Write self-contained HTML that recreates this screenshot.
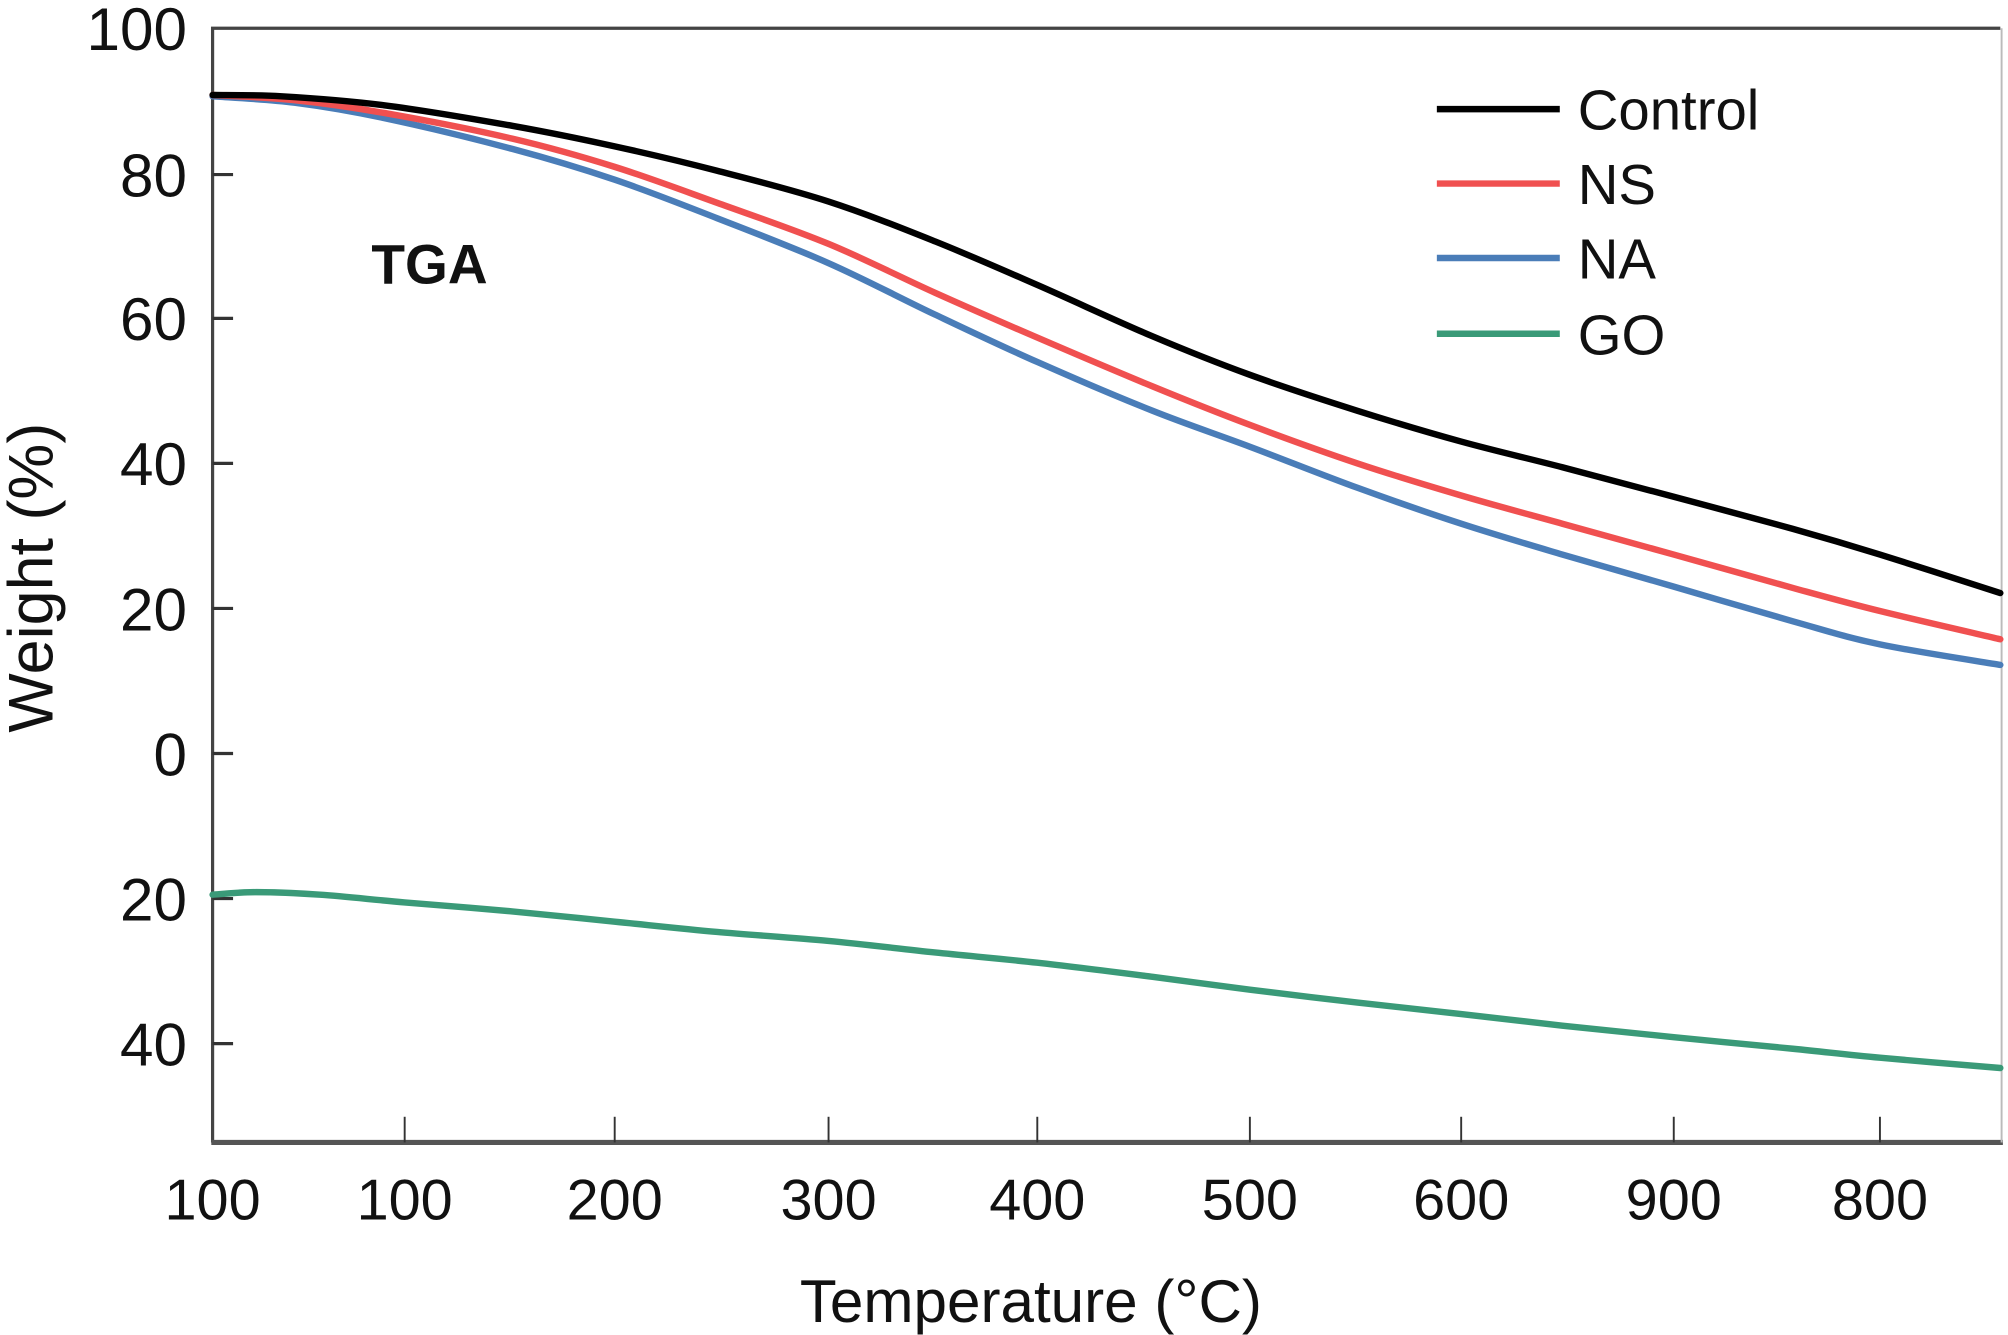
<!DOCTYPE html>
<html><head><meta charset="utf-8"><style>html,body{margin:0;padding:0;background:#fff}svg{display:block}</style></head>
<body>
<svg id="s" width="2008" height="1335" viewBox="0 0 1568 1040" preserveAspectRatio="none" font-family="Liberation Sans, sans-serif">
<rect width="1568" height="1040" fill="#fff"/>
<path d="M166,890 V22 H1562" fill="none" stroke="#444" stroke-width="2.5"/>
<line x1="165" y1="890" x2="1564" y2="890" stroke="#555" stroke-width="4"/>
<line x1="1563" y1="22" x2="1563" y2="890" stroke="#bbb" stroke-width="1.5"/>
<g stroke="#333" stroke-width="2.5">
<line x1="166" y1="136" x2="182" y2="136"/><line x1="166" y1="248" x2="182" y2="248"/>
<line x1="166" y1="361" x2="182" y2="361"/><line x1="166" y1="474" x2="182" y2="474"/>
<line x1="166" y1="587" x2="182" y2="587"/><line x1="166" y1="700" x2="182" y2="700"/>
<line x1="166" y1="813" x2="182" y2="813"/>
</g>
<g stroke="#333" stroke-width="1.5">
<line x1="316" y1="870" x2="316" y2="890"/><line x1="480" y1="870" x2="480" y2="890"/>
<line x1="647" y1="870" x2="647" y2="890"/><line x1="810" y1="870" x2="810" y2="890"/>
<line x1="976" y1="870" x2="976" y2="890"/><line x1="1141" y1="870" x2="1141" y2="890"/>
<line x1="1307" y1="870" x2="1307" y2="890"/><line x1="1468" y1="870" x2="1468" y2="890"/>
</g>
<g font-size="47" fill="#111" text-anchor="end">
<text x="146" y="39">100</text><text x="146" y="153">80</text><text x="146" y="265">60</text>
<text x="146" y="378">40</text><text x="146" y="491">20</text><text x="146" y="604">0</text>
<text x="146" y="717">20</text><text x="146" y="830">40</text>
</g>
<g font-size="45" fill="#111" text-anchor="middle">
<text x="166" y="950">100</text><text x="316" y="950">100</text><text x="480" y="950">200</text>
<text x="647" y="950">300</text><text x="810" y="950">400</text><text x="976" y="950">500</text>
<text x="1141" y="950">600</text><text x="1307" y="950">900</text><text x="1468" y="950">800</text>
</g>
<text x="805" y="1030" font-size="47" text-anchor="middle" fill="#111">Temperature (°C)</text>
<text transform="translate(41,450) rotate(-90)" font-size="49" text-anchor="middle" fill="#111">Weight (%)</text>
<text x="290" y="221" font-size="43" font-weight="bold" fill="#111">TGA</text>
<g stroke-width="5">
<line x1="1122" y1="85" x2="1218" y2="85" stroke="#000"/>
<line x1="1122" y1="143" x2="1218" y2="143" stroke="#f05050"/>
<line x1="1122" y1="201" x2="1218" y2="201" stroke="#4a7db8"/>
<line x1="1122" y1="260" x2="1218" y2="260" stroke="#3a9a78"/>
</g>
<g font-size="44" fill="#111">
<text x="1232" y="101">Control</text><text x="1232" y="159">NS</text>
<text x="1232" y="217">NA</text><text x="1232" y="276">GO</text>
</g>
<g fill="none" stroke-width="5" stroke-linejoin="round" stroke-linecap="round">
<polyline stroke="#4a7db8" points="166,75 230,80 300,92 400,116 480,140 560,170 647,205 730,245 810,282 900,320 976,348 1060,380 1141,408 1220,432 1307,457 1400,484 1468,502 1562,518"/>
<polyline stroke="#f05050" points="166,74 230,78 300,88 400,108 480,130 560,158 647,190 730,228 810,263 900,301 976,331 1060,361 1141,386 1220,408 1307,432 1400,458 1468,476 1562,498"/>
<polyline stroke="#000" points="166,74 220,75 300,82 400,98 480,114 560,133 647,157 730,188 810,222 900,262 976,292 1060,320 1141,344 1220,364 1307,387 1400,412 1468,432 1562,462"/>
<polyline stroke="#3a9a78" points="166,697 200,695 250,697 316,703 400,710 480,718 560,726 647,733 730,742 810,750 900,761 976,771 1060,781 1141,790 1220,799 1307,808 1400,817 1468,824 1562,832"/>
</g>
</svg>
<script>
document.querySelectorAll('polyline').forEach(function(pl){
  var p=pl.getAttribute('points').trim().split(/\s+/).map(function(s){return s.split(',').map(Number);});
  var d='M'+p[0][0]+','+p[0][1];
  for(var i=0;i<p.length-1;i++){
    var p0=p[i-1]||p[i],p1=p[i],p2=p[i+1],p3=p[i+2]||p2;
    var c1x=p1[0]+(p2[0]-p0[0])/6,c1y=p1[1]+(p2[1]-p0[1])/6;
    var c2x=p2[0]-(p3[0]-p1[0])/6,c2y=p2[1]-(p3[1]-p1[1])/6;
    d+=' C'+c1x+','+c1y+' '+c2x+','+c2y+' '+p2[0]+','+p2[1];
  }
  var path=document.createElementNS('http://www.w3.org/2000/svg','path');
  path.setAttribute('d',d);path.setAttribute('stroke',pl.getAttribute('stroke'));
  pl.parentNode.replaceChild(path,pl);
});
</script>
</body></html>
